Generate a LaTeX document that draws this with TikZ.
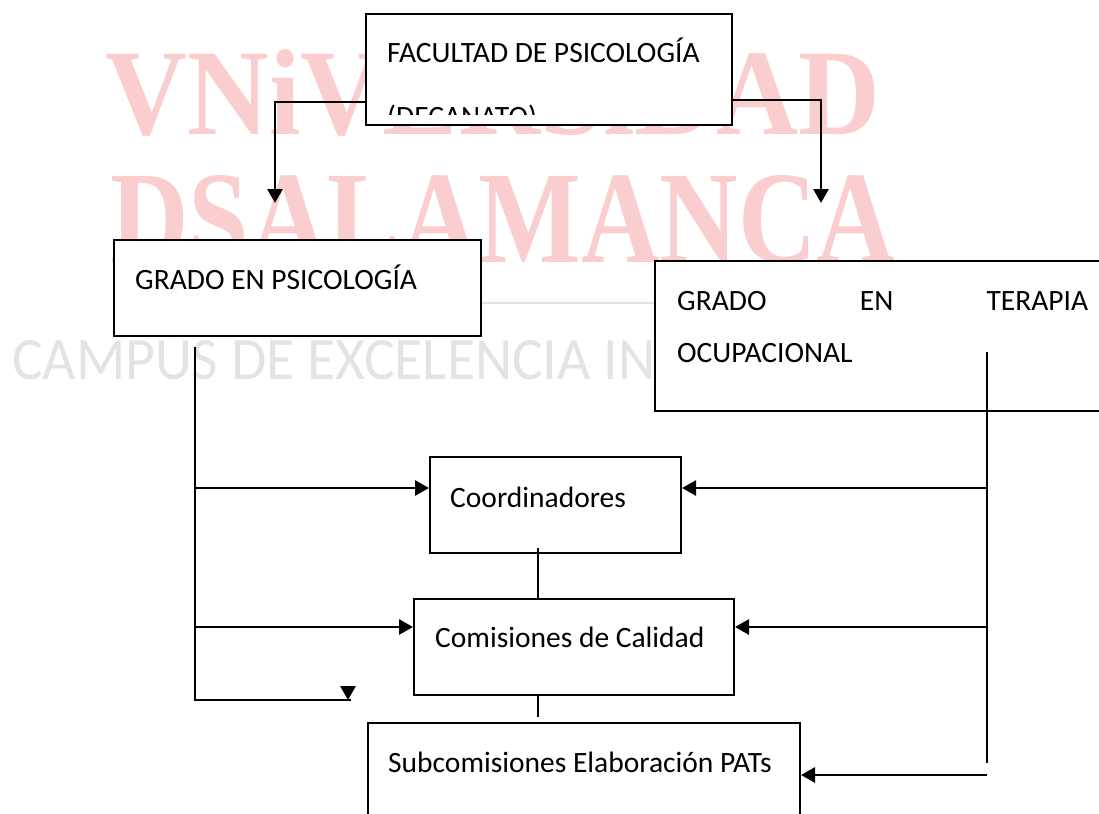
\documentclass[tikz,border=0pt]{standalone}
\usepackage{fontspec}
\usepackage{graphicx}
\usepackage{tikz}
\usetikzlibrary{arrows.meta,positioning,calc}
\setmainfont{Carlito}
\newfontfamily\wmserif{Liberation Serif}
\definecolor{wmred}{HTML}{FACECE}
\definecolor{wmgray}{HTML}{E3E3E3}

\begin{document}
\begin{tikzpicture}[
    x=1pt, y=-1pt,
    box/.style={draw=black, fill=white, line width=2pt, inner sep=0pt},
    txt/.style={anchor=base west, inner sep=0pt, font=\fontsize{29.5}{34}\selectfont},
    wmark/.style={anchor=base west, inner sep=0pt},
    arrow/.style={line width=2.8pt, -{Triangle[width=15pt,length=14pt]}},
    link/.style={line width=2.8pt},
    thinlink/.style={line width=1.8pt}
]
    \useasboundingbox (0,0) rectangle (1099,813);

    % watermark of the university
    \node[wmark, text=wmred] (wmUni) at (105,135) {\resizebox{775pt}{85pt}{\wmserif\bfseries VNiVERSiDAD}};
    \node[wmark, text=wmred] (wmSal) at (110,262) {\resizebox{785pt}{87pt}{\wmserif\bfseries DSALAMANCA}};
    \node[wmark, text=wmgray] (wmCampus) at (12,379) {\resizebox{643pt}{39pt}{CAMPUS DE EXCELENCIA IN}};

    % boxes
    \node[box, minimum width=366pt, minimum height=111pt] (fac) at (549,69.5) {};
    \node[box, minimum width=367pt, minimum height=96pt] (psi) at (297.5,288) {};
    \node[box, minimum width=475pt, minimum height=150pt] (ter) at (892.5,336) {};
    \node[box, minimum width=251pt, minimum height=96pt] (coord) at (555.5,505) {};
    \node[box, minimum width=320pt, minimum height=96pt] (com) at (574,647) {};
    \node[box, minimum width=432pt, minimum height=117pt] (sub) at (584,781.5) {};

    \draw[wmgray, line width=2.5pt] (psi.east |- 0,303) -- (ter.west |- 0,303);

    % texts
    \node[txt] (facT) at (387,63) {FACULTAD DE PSICOLOGÍA};
    \begin{scope}
        \clip (366,14) rectangle (732,115);
        \node[txt] (facT2) at (387,127) {(DECANATO)};
    \end{scope}
    \node[txt] (psiT) at (135,289) {GRADO EN PSICOLOGÍA};
    \node[txt] (terT) at (677,310) {\makebox[411pt][s]{GRADO EN TERAPIA}};
    \node[txt] (terT2) at (677,362) {OCUPACIONAL};
    \node[txt] (coordT) at (450,507) {Coordinadores};
    \node[txt] (comT) at (435,647) {Comisiones de Calidad};
    \node[txt] (subT) at (388,772) {Subcomisiones Elaboración PATs};

    % connector points
    \coordinate (psiIn) at (275,203);
    \coordinate (terIn) at (821,203);
    \coordinate (psiOut) at (195,347);
    \coordinate (busL) at (195,700);
    \coordinate (stub) at (351,700);
    \coordinate (stubTop) at (348,686);
    \coordinate (stubTip) at (348,700);
    \coordinate (terOut) at (987,352);
    \coordinate (busR) at (987,763);
    \path ([yshift=17pt]coord.west) coordinate (coordL)
          ([yshift=17pt]coord.east) coordinate (coordR)
          ([yshift=20pt]com.west) coordinate (comL)
          ([yshift=20pt]com.east) coordinate (comR)
          ([yshift=6.5pt]sub.east) coordinate (subR);

    % connectors
    \draw[arrow] (fac.west |- 0,102) -| (psiIn);
    \draw[arrow] (fac.east |- 0,100) -| (terIn);
    \draw[link] (psiOut) -- (busL) -- (stub);
    \draw[arrow] (stubTop) -- (stubTip);
    \draw[arrow] (busL |- coordL) -- (coordL);
    \draw[arrow] (busL |- comL) -- (comL);
    \draw[thinlink] (terOut) -- (busR);
    \draw[arrow] (busR |- coordR) -- (coordR);
    \draw[arrow] (busR |- comR) -- (comR);
    \draw[arrow] (busR |- subR) -- (subR);
    \draw[thinlink] ([xshift=-17.5pt,yshift=6pt]coord.south) -- ++(0,51);
    \draw[thinlink] ([xshift=-36pt]com.south) -- ++(0,21);
\end{tikzpicture}
\end{document}
